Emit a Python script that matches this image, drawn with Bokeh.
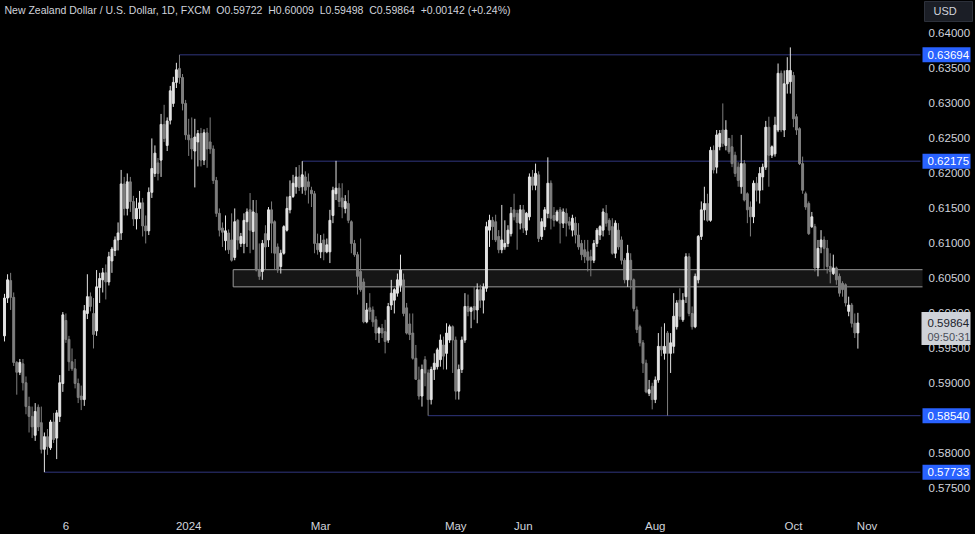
from bokeh.plotting import figure
from bokeh.models import (Range1d, LinearAxis, FixedTicker, ColumnDataSource,
                          GlobalInlineStyleSheet)
from bokeh.core.properties import value
from bokeh.embed import file_html
from bokeh.resources import INLINE

# ---------------- data (NZD/USD daily) ----------------
opens = [
    0.5968, 0.6022, 0.6047, 0.6023, 0.5930, 0.5916, 0.5928, 0.5901, 0.5867, 0.5853,
    0.5826, 0.5866, 0.5844, 0.5806, 0.5824, 0.5808, 0.5845, 0.5822, 0.5853, 0.5900,
    0.5990, 0.5963, 0.5931, 0.5921, 0.5900, 0.5882, 0.5877, 0.6000, 0.6024, 0.6000,
    0.5975, 0.6037, 0.6048, 0.6058, 0.6045, 0.6075, 0.6090, 0.6105, 0.6115, 0.6185,
    0.6150, 0.6188, 0.6160, 0.6135, 0.6150, 0.6158, 0.6125, 0.6118, 0.6173, 0.6200,
    0.6215, 0.6219, 0.6270, 0.6240, 0.6276, 0.6300, 0.6330, 0.6350, 0.6337, 0.6300,
    0.6255, 0.6250, 0.6232, 0.6245, 0.6257, 0.6219, 0.6258, 0.6245, 0.6235, 0.6190,
    0.6143, 0.6122, 0.6104, 0.6115, 0.6105, 0.6080, 0.6133, 0.6100, 0.6100, 0.6131,
    0.6148, 0.6117, 0.6143, 0.6062, 0.6060, 0.6114, 0.6105, 0.6148, 0.6131, 0.6095,
    0.6067, 0.6086, 0.6119, 0.6148, 0.6167, 0.6181, 0.6195, 0.6181, 0.6195, 0.6188,
    0.6176, 0.6171, 0.6100, 0.6088, 0.6105, 0.6088, 0.6088, 0.6140, 0.6171, 0.6179,
    0.6165, 0.6150, 0.6157, 0.6131, 0.6100, 0.6084, 0.6060, 0.6045, 0.5988, 0.6008,
    0.6005, 0.5991, 0.5972, 0.5979, 0.5974, 0.5962, 0.6012, 0.6019, 0.6029, 0.6040,
    0.6048, 0.6008, 0.5985, 0.5972, 0.5936, 0.5905, 0.5882, 0.5934, 0.5915, 0.5877,
    0.5920, 0.5924, 0.5934, 0.5955, 0.5943, 0.5962, 0.5981, 0.5962, 0.5889, 0.5920,
    0.5962, 0.6010, 0.6003, 0.6010, 0.6005, 0.6034, 0.6019, 0.6036, 0.6119, 0.6133,
    0.6131, 0.6110, 0.6091, 0.6095, 0.6100, 0.6114, 0.6148, 0.6143, 0.6129, 0.6148,
    0.6119, 0.6138, 0.6195, 0.6183, 0.6198, 0.6110, 0.6124, 0.6143, 0.6186, 0.6140,
    0.6133, 0.6148, 0.6129, 0.6143, 0.6131, 0.6119, 0.6129, 0.6112, 0.6100, 0.6091,
    0.6088, 0.6081, 0.6076, 0.6100, 0.6112, 0.6119, 0.6143, 0.6133, 0.6124, 0.6086,
    0.6119, 0.6105, 0.6076, 0.6048, 0.6076, 0.6048, 0.6005, 0.5981, 0.5958, 0.5929,
    0.5886, 0.5896, 0.5877, 0.5905, 0.5953, 0.5943, 0.5972, 0.5943, 0.5953, 0.5981,
    0.6019, 0.5991, 0.6024, 0.6081, 0.6000, 0.5981, 0.6048, 0.6110, 0.6148, 0.6157,
    0.6133, 0.6233, 0.6209, 0.6238, 0.6262, 0.6240, 0.6250, 0.6238, 0.6226, 0.6209,
    0.6181, 0.6214, 0.6171, 0.6152, 0.6138, 0.6186, 0.6176, 0.6195, 0.6209, 0.6266,
    0.6226, 0.6228, 0.6262, 0.6343, 0.6262, 0.6328, 0.6331, 0.6340, 0.6281, 0.6264,
    0.6214, 0.6171, 0.6157, 0.6124, 0.6124, 0.6065, 0.6095, 0.6105, 0.6093, 0.6067,
    0.6057, 0.6065, 0.6053, 0.6043, 0.6041, 0.6003, 0.6012, 0.5986, 0.59722,
]
highs = [
    0.6028, 0.6056, 0.6058, 0.6030, 0.5932, 0.5935, 0.5935, 0.5910, 0.5881, 0.5867,
    0.5872, 0.5870, 0.5867, 0.5830, 0.5835, 0.5848, 0.5858, 0.5862, 0.5912, 0.6002,
    0.6000, 0.5968, 0.5950, 0.5935, 0.5907, 0.5897, 0.6012, 0.6056, 0.6030, 0.6022,
    0.6062, 0.6058, 0.6065, 0.6070, 0.6088, 0.6095, 0.6110, 0.6130, 0.6205, 0.6195,
    0.6200, 0.6195, 0.6168, 0.6165, 0.6175, 0.6165, 0.6140, 0.6180, 0.6250, 0.6240,
    0.6222, 0.6285, 0.6298, 0.6280, 0.6325, 0.6338, 0.6358, 0.63694, 0.6342, 0.6305,
    0.6278, 0.6280, 0.6278, 0.6262, 0.6265, 0.6263, 0.6265, 0.6280, 0.6240, 0.6195,
    0.6150, 0.6130, 0.6140, 0.6120, 0.6143, 0.6150, 0.6135, 0.6115, 0.6143, 0.6150,
    0.6172, 0.6162, 0.6162, 0.6100, 0.6105, 0.6126, 0.6152, 0.6160, 0.6133, 0.6100,
    0.6091, 0.6126, 0.6167, 0.6190, 0.6198, 0.6209, 0.6212, 0.62175, 0.6203, 0.6200,
    0.6181, 0.6175, 0.6114, 0.6112, 0.6114, 0.6107, 0.6148, 0.6181, 0.6218, 0.6186,
    0.6186, 0.6169, 0.6176, 0.6133, 0.6105, 0.6088, 0.6107, 0.6050, 0.6015, 0.6029,
    0.6010, 0.5996, 0.5981, 0.5985, 0.5991, 0.6015, 0.6048, 0.6036, 0.6057, 0.6084,
    0.6057, 0.6015, 0.6000, 0.6000, 0.5955, 0.5924, 0.5927, 0.5939, 0.5920, 0.5924,
    0.5943, 0.5951, 0.5970, 0.5967, 0.5986, 0.5984, 0.5983, 0.5967, 0.5927, 0.5967,
    0.6029, 0.6027, 0.6010, 0.6038, 0.6043, 0.6041, 0.6043, 0.6131, 0.6141, 0.6138,
    0.6141, 0.6119, 0.6155, 0.6133, 0.6126, 0.6152, 0.6171, 0.6148, 0.6155, 0.6155,
    0.6145, 0.6200, 0.6205, 0.6214, 0.6203, 0.6136, 0.6152, 0.6223, 0.6190, 0.6152,
    0.6148, 0.6152, 0.6150, 0.6150, 0.6138, 0.6141, 0.6138, 0.6129, 0.6105, 0.6105,
    0.6105, 0.6091, 0.6105, 0.6122, 0.6126, 0.6150, 0.6155, 0.6136, 0.6136, 0.6133,
    0.6129, 0.6110, 0.6079, 0.6098, 0.6086, 0.6050, 0.6010, 0.5984, 0.5962, 0.5934,
    0.5905, 0.5901, 0.5910, 0.5972, 0.5981, 0.5986, 0.5975, 0.5972, 0.6029, 0.6019,
    0.6036, 0.6029, 0.6086, 0.6086, 0.6010, 0.6057, 0.6112, 0.6160, 0.6181, 0.6171,
    0.6238, 0.6240, 0.6262, 0.6262, 0.6300, 0.6276, 0.6250, 0.6255, 0.6231, 0.6216,
    0.6255, 0.6219, 0.6173, 0.6160, 0.6190, 0.6195, 0.6209, 0.6214, 0.6275, 0.6281,
    0.6240, 0.6281, 0.6357, 0.6347, 0.6347, 0.6366, 0.6380, 0.6345, 0.6285, 0.6266,
    0.6224, 0.6174, 0.6160, 0.6145, 0.6128, 0.6105, 0.6119, 0.6110, 0.6105, 0.6086,
    0.6084, 0.6067, 0.6057, 0.6046, 0.6043, 0.6024, 0.6015, 0.6000, 0.60009,
]
lows = [
    0.5960, 0.6015, 0.6005, 0.5925, 0.5884, 0.5912, 0.5890, 0.5856, 0.5830, 0.5822,
    0.5818, 0.5832, 0.5800, 0.57733, 0.5798, 0.5805, 0.5815, 0.5792, 0.5845, 0.5888,
    0.5958, 0.5918, 0.5918, 0.5893, 0.5872, 0.5862, 0.5868, 0.5992, 0.6003, 0.5950,
    0.5968, 0.6015, 0.6030, 0.6020, 0.6040, 0.6058, 0.6082, 0.6090, 0.6105, 0.6140,
    0.6140, 0.6145, 0.6125, 0.6120, 0.6135, 0.6110, 0.6100, 0.6112, 0.6165, 0.6195,
    0.6190, 0.6195, 0.6245, 0.6232, 0.6270, 0.6295, 0.6322, 0.6328, 0.6290, 0.6248,
    0.6225, 0.6220, 0.6180, 0.6210, 0.6210, 0.6212, 0.6208, 0.6228, 0.6185, 0.6138,
    0.6110, 0.6095, 0.6090, 0.6085, 0.6074, 0.6076, 0.6091, 0.6095, 0.6086, 0.6095,
    0.6086, 0.6091, 0.6060, 0.6048, 0.6048, 0.6062, 0.6095, 0.6086, 0.6062, 0.6058,
    0.6057, 0.6084, 0.6117, 0.6143, 0.6165, 0.6171, 0.6175, 0.6171, 0.6169, 0.6157,
    0.6152, 0.6086, 0.6084, 0.6079, 0.6076, 0.6086, 0.6072, 0.6129, 0.6162, 0.6152,
    0.6136, 0.6143, 0.6129, 0.6086, 0.6081, 0.6027, 0.6031, 0.5986, 0.5986, 0.5991,
    0.5981, 0.5962, 0.5958, 0.5965, 0.5943, 0.5958, 0.6005, 0.6000, 0.6024, 0.6031,
    0.5996, 0.5970, 0.5962, 0.5934, 0.5905, 0.5877, 0.5867, 0.5896, 0.58540, 0.5870,
    0.5905, 0.5920, 0.5924, 0.5920, 0.5920, 0.5958, 0.5915, 0.5877, 0.5877, 0.5915,
    0.5958, 0.5996, 0.5979, 0.5991, 0.5986, 0.6008, 0.6000, 0.6031, 0.6095, 0.6105,
    0.6102, 0.6086, 0.6086, 0.6091, 0.6095, 0.6110, 0.6133, 0.6091, 0.6120, 0.6115,
    0.6112, 0.6133, 0.6176, 0.6176, 0.6102, 0.6105, 0.6119, 0.6136, 0.6120, 0.6124,
    0.6131, 0.6100, 0.6122, 0.6110, 0.6120, 0.6110, 0.6100, 0.6091, 0.6076, 0.6072,
    0.6060, 0.6053, 0.6072, 0.6095, 0.6105, 0.6110, 0.6124, 0.6112, 0.6084, 0.6079,
    0.6091, 0.6070, 0.6043, 0.6038, 0.6034, 0.6003, 0.5972, 0.5953, 0.5915, 0.5886,
    0.5882, 0.5863, 0.5872, 0.5901, 0.5939, 0.5934, 0.58540, 0.5915, 0.5943, 0.5977,
    0.5991, 0.5988, 0.6015, 0.5996, 0.5977, 0.5979, 0.6043, 0.6105, 0.6133, 0.6131,
    0.6131, 0.6200, 0.6200, 0.6233, 0.6238, 0.6233, 0.6228, 0.6209, 0.6195, 0.6181,
    0.6171, 0.6160, 0.6129, 0.6110, 0.6129, 0.6160, 0.6157, 0.6176, 0.6205, 0.6181,
    0.6222, 0.6224, 0.6259, 0.6259, 0.6252, 0.6314, 0.6314, 0.6266, 0.6255, 0.6212,
    0.6171, 0.6148, 0.6112, 0.6122, 0.6060, 0.6053, 0.6086, 0.6062, 0.6057, 0.6043,
    0.6055, 0.6041, 0.6024, 0.6024, 0.6010, 0.5996, 0.5980, 0.5965, 0.59498,
]
closes = [
    0.6022, 0.6048, 0.6023, 0.5930, 0.5916, 0.5930, 0.5901, 0.5867, 0.5853, 0.5838,
    0.5860, 0.5838, 0.5806, 0.5824, 0.5810, 0.5845, 0.5820, 0.5858, 0.5901, 0.5998,
    0.5963, 0.5931, 0.5921, 0.5900, 0.5880, 0.5877, 0.6004, 0.6024, 0.6010, 0.5970,
    0.6038, 0.6050, 0.6058, 0.6045, 0.6081, 0.6092, 0.6105, 0.6115, 0.6185, 0.6150,
    0.6188, 0.6160, 0.6135, 0.6150, 0.6158, 0.6125, 0.6118, 0.6173, 0.6207, 0.6229,
    0.6200, 0.6270, 0.6250, 0.6275, 0.6318, 0.6330, 0.6348, 0.6337, 0.6300, 0.6255,
    0.6248, 0.6235, 0.6252, 0.6257, 0.6219, 0.6258, 0.6235, 0.6235, 0.6190, 0.6143,
    0.6119, 0.6116, 0.6118, 0.6091, 0.6076, 0.6131, 0.6105, 0.6110, 0.6133, 0.6145,
    0.6119, 0.6145, 0.6062, 0.6053, 0.6100, 0.6095, 0.6148, 0.6129, 0.6086, 0.6062,
    0.6086, 0.6124, 0.6150, 0.6167, 0.6186, 0.6195, 0.6180, 0.6198, 0.6176, 0.6181,
    0.6171, 0.6100, 0.6091, 0.6100, 0.6088, 0.6098, 0.6133, 0.6176, 0.6179, 0.6160,
    0.6152, 0.6160, 0.6133, 0.6100, 0.6084, 0.6053, 0.6034, 0.5988, 0.6005, 0.6003,
    0.5988, 0.5972, 0.5979, 0.5972, 0.5960, 0.6010, 0.6029, 0.6034, 0.6048, 0.6062,
    0.6000, 0.5972, 0.5970, 0.5936, 0.5906, 0.5882, 0.5920, 0.5915, 0.5877, 0.5920,
    0.5929, 0.5948, 0.5962, 0.5939, 0.5972, 0.5981, 0.5962, 0.5889, 0.5920, 0.5962,
    0.6010, 0.6003, 0.6008, 0.6005, 0.6034, 0.6019, 0.6038, 0.6124, 0.6133, 0.6124,
    0.6105, 0.6091, 0.6105, 0.6100, 0.6119, 0.6143, 0.6138, 0.6130, 0.6148, 0.6122,
    0.6143, 0.6195, 0.6183, 0.6200, 0.6107, 0.6131, 0.6148, 0.6186, 0.6136, 0.6133,
    0.6145, 0.6129, 0.6145, 0.6129, 0.6126, 0.6136, 0.6112, 0.6095, 0.6084, 0.6081,
    0.6076, 0.6076, 0.6100, 0.6119, 0.6124, 0.6145, 0.6129, 0.6119, 0.6086, 0.6129,
    0.6095, 0.6076, 0.6048, 0.6086, 0.6048, 0.6007, 0.5977, 0.5958, 0.5929, 0.5888,
    0.5891, 0.5877, 0.5905, 0.5953, 0.5948, 0.5953, 0.5943, 0.5958, 0.5996, 0.6015,
    0.5996, 0.6019, 0.6081, 0.6000, 0.5981, 0.6053, 0.6110, 0.6148, 0.6157, 0.6133,
    0.6233, 0.6205, 0.6255, 0.6257, 0.6243, 0.6262, 0.6231, 0.6214, 0.6200, 0.6190,
    0.6214, 0.6162, 0.6148, 0.6138, 0.6186, 0.6176, 0.6200, 0.6209, 0.6266, 0.6226,
    0.6238, 0.6269, 0.6343, 0.6262, 0.6328, 0.6347, 0.6347, 0.6278, 0.6262, 0.6214,
    0.6176, 0.6152, 0.6114, 0.6138, 0.6065, 0.6093, 0.6105, 0.6093, 0.6067, 0.6060,
    0.6065, 0.6048, 0.6029, 0.6034, 0.6015, 0.6012, 0.5986, 0.59722, 0.59864,
]

# date axis (bar index of the first session of each labelled period)
date_ticks = [20, 60, 103, 147, 169, 212, 257, 281]
date_labels = ["6", "2024", "Mar", "May", "Jun", "Aug", "Oct", "Nov"]

# price scale ticks
price_ticks = [0.575, 0.580, 0.585, 0.590, 0.595, 0.600, 0.605, 0.610,
               0.615, 0.620, 0.625, 0.630, 0.635, 0.640]

# horizontal levels and the bar where each starts
levels = [0.63694, 0.62175, 0.58540, 0.57733]
level_start_bars = [57, 97, 138, 13]

# support / resistance zone
zone_low, zone_high = 0.60380, 0.60625
zone_start_bar = 75

symbol_title = "New Zealand Dollar / U.S. Dollar, 1D, FXCM"
currency = "USD"
countdown = "09:50:31"

assert len(opens) == len(highs) == len(lows) == len(closes)

# ---------------- layout constants ----------------
W, H = 975, 534
AXIS_B = 24
CHART_W = 920                      # width of the candle area, price scale to its right
X_LO, X_EDGE = -1.3, 298.4         # bar range of the candle area
Y_LO, Y_HI = 0.5720, 0.6447
PPB = CHART_W / (X_EDGE - X_LO)    # pixels per bar
X_HI = X_LO + W / PPB              # frame spans the whole width
FRAME_H = H - AXIS_B
PPU = FRAME_H / (Y_HI - Y_LO)      # pixels per price unit


def px_x(px):
    return px / PPB


def px_y(px):
    return px / PPU


UP, DOWN = "#e3e3e3", "#7e7e7e"
TXT = "#d1d4dc"
FONT = "Liberation Sans"
LEVEL_COLOR = "#30367e"
LABEL_BG = "#2962ff"
ZONE_LINE = "#9a9a9a"

p = figure(width=W, height=H, output_backend="svg", toolbar_location=None,
           x_range=Range1d(X_LO, X_HI), y_range=Range1d(Y_LO, Y_HI),
           x_axis_location=None, y_axis_location=None,
           background_fill_color="#000000", border_fill_color="#000000",
           min_border_left=0, min_border_top=0, min_border_right=0,
           min_border_bottom=AXIS_B, outline_line_color=None)
p.xgrid.grid_line_color = None
p.ygrid.grid_line_color = None
p.stylesheets = [GlobalInlineStyleSheet(css="html, body { background: #000000; }")]

# time axis
xaxis = LinearAxis(ticker=FixedTicker(ticks=date_ticks),
                   major_label_overrides={t: s for t, s in zip(date_ticks, date_labels)})
xaxis.axis_line_color = None
xaxis.major_tick_line_color = None
xaxis.minor_tick_line_color = None
xaxis.major_tick_in = 0
xaxis.major_tick_out = 0
xaxis.major_label_text_color = TXT
xaxis.major_label_text_font = FONT
xaxis.major_label_text_font_size = "11.5px"
xaxis.major_label_standoff = 10
p.add_layout(xaxis, "below")

# zone: fill plus top, bottom and left borders
zone_right = X_EDGE + px_x(2)
p.quad(left=[zone_start_bar - 0.5], right=[zone_right], bottom=[zone_low], top=[zone_high],
       fill_color="#161616", line_color=None)
p.segment(x0=[zone_start_bar - 0.5] * 2, y0=[zone_low, zone_high],
          x1=[zone_right] * 2, y1=[zone_low, zone_high], line_color=ZONE_LINE, line_width=1)
p.segment(x0=[zone_start_bar - 0.5], y0=[zone_low], x1=[zone_start_bar - 0.5], y1=[zone_high],
          line_color=ZONE_LINE, line_width=1)

# level lines
p.segment(x0=level_start_bars, y0=levels, x1=[X_EDGE] * len(levels), y1=levels,
          line_color=LEVEL_COLOR, line_width=1)

# candles
n = len(closes)
src = ColumnDataSource(dict(
    x=list(range(n)), h=highs, l=lows,
    top=[max(o, c) for o, c in zip(opens, closes)],
    bottom=[min(o, c) for o, c in zip(opens, closes)],
    color=[UP if c >= o else DOWN for o, c in zip(opens, closes)],
))
p.segment(x0="x", y0="h", x1="x", y1="l", line_color="color", line_width=1, source=src)
p.vbar(x="x", width=0.62, top="top", bottom="bottom", fill_color="color",
       line_color="color", line_width=1, source=src)

# price scale tick labels
p.text(x=[X_EDGE] * len(price_ticks), y=price_ticks, text=[f"{t:.5f}" for t in price_ticks],
       x_offset=8, text_baseline="middle", text_align="left", text_color=TXT,
       text_font=value(FONT), text_font_size="11.5px")

# level price tags
BOX_W = 48
p.rect(x=[X_EDGE + px_x(2 + BOX_W / 2)] * len(levels), y=levels, width=BOX_W, height=15,
       width_units="screen", height_units="screen", fill_color=LABEL_BG, line_color=None)
p.text(x=[X_EDGE] * len(levels), y=levels, text=[f"{lv:.5f}" for lv in levels],
       x_offset=7, text_baseline="middle", text_align="left", text_color="#ffffff",
       text_font=value(FONT), text_font_size="11.5px")

# last price tag with countdown
last = closes[-1]
p.rect(x=[X_EDGE + px_x(1 + (BOX_W + 1) / 2)], y=[last - px_y(5.5)], width=BOX_W + 1, height=33,
       width_units="screen", height_units="screen", fill_color="#cfd2d8", line_color=None)
p.text(x=[X_EDGE], y=[last], text=[f"{last:.5f}"],
       x_offset=7, text_baseline="middle", text_align="left",
       text_color="#20232c", text_font=value(FONT), text_font_size="11.5px")
p.text(x=[X_EDGE], y=[last - px_y(14)], text=[countdown],
       x_offset=7, text_baseline="middle", text_align="left",
       text_color="#4a4e58", text_font=value(FONT), text_font_size="11px")

# currency box
p.rect(x=[X_EDGE + px_x(4 + BOX_W / 2)], y=[Y_HI - px_y(11)], width=BOX_W, height=20,
       width_units="screen", height_units="screen", fill_color="#1b1e26",
       line_color="#2e323c", line_width=1)
p.text(x=[X_EDGE], y=[Y_HI - px_y(11)], text=[currency], x_offset=13,
       text_baseline="middle", text_align="left", text_color=TXT,
       text_font=value(FONT), text_font_size="11px")

# header
prev = closes[-2]
chg = last - prev
header = "\u00a0\u00a0".join([
    symbol_title,
    f"O{opens[-1]:.5f}", f"H{highs[-1]:.5f}", f"L{lows[-1]:.5f}", f"C{last:.5f}",
    f"{chg:+.5f} ({chg / prev * 100:+.2f}%)",
])
p.text(x=[X_LO], y=[Y_HI - px_y(10)], text=[header], x_offset=4,
       text_baseline="middle", text_align="left", text_color=TXT,
       text_font=value(FONT), text_font_size="10.5px")

open("out.html", "w").write(file_html(p, INLINE))
